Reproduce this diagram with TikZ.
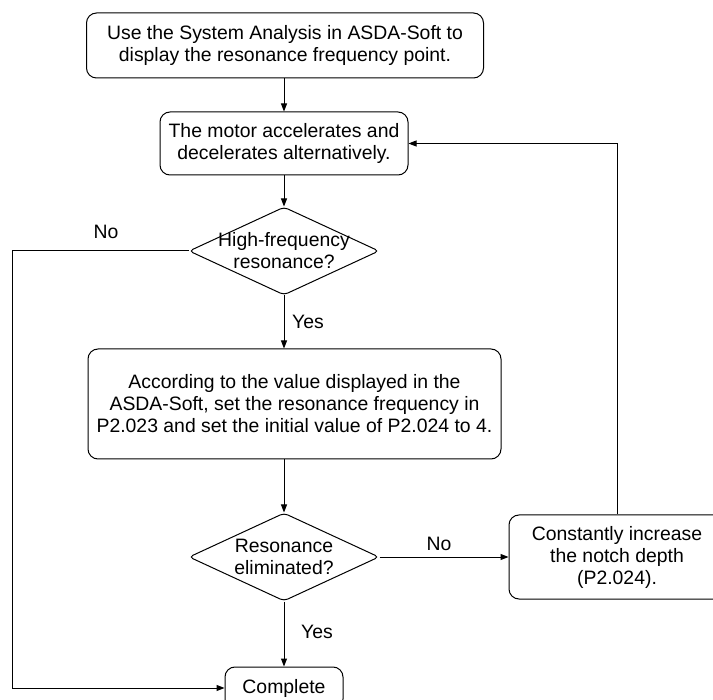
\documentclass[tikz,border=0pt]{standalone}
\usepackage{fontspec}
\setmainfont{Liberation Sans}
\usetikzlibrary{shapes.geometric,arrows.meta,positioning,calc}
\tikzset{
  process/.style={draw,rounded corners=5pt,align=center,inner sep=0pt,
    line width=0.5pt,font=\fontsize{9.7}{11}\selectfont},
  decision/.style={diamond,draw,rounded corners=2pt,align=center,aspect=2.16,
    inner xsep=-15pt,inner ysep=-5pt,
    minimum width=95pt,minimum height=44pt,line width=0.5pt,
    font=\fontsize{9.7}{11}\selectfont},
  flow/.style={-{Triangle[length=4pt,width=3pt]},line width=0.5pt},
  edgelabel/.style={font=\fontsize{9.7}{11}\selectfont,inner sep=0pt}
}
\begin{document}
\begin{tikzpicture}[x=0.5pt,y=-0.5pt]
  \useasboundingbox (0,0) rectangle (713,700);
  \node[process,minimum width=198.5pt,minimum height=32.5pt] (analysis) at (285,45.5)
    {Use the System Analysis in ASDA-Soft to\\display the resonance frequency point.};
  \node[process,minimum width=124pt,minimum height=31.5pt] (motor) at (284,143.5)
    {The motor accelerates and\\decelerates alternatively.};
  \node[decision] (highfreq) at (284,251) {High-frequency\\resonance?};
  \node[process,minimum width=206.5pt,minimum height=55pt] (setnotch) at (294.5,404)
    {According to the value displayed in the\\ASDA-Soft, set the resonance frequency in\\P2.023 and set the initial value of P2.024 to 4.};
  \node[decision] (eliminated) at (284,557) {Resonance\\eliminated?};
  \node[process,minimum width=108pt,minimum height=42pt] (depth) at (617,557)
    {Constantly increase\\the notch depth\\(P2.024).};
  \node[process,minimum width=59pt,minimum height=21pt] (complete) at (284,688) {Complete};
  \node[edgelabel] (nohigh) at (106,232) {No};
  \node[edgelabel] (yeshigh) at (308,322) {Yes};
  \node[edgelabel] (noelim) at (439,544) {No};
  \node[edgelabel] (yeselim) at (317,632) {Yes};
  \draw[flow] (analysis.south -| motor) -- (motor.north);
  \draw[flow] (motor) -- (highfreq);
  \draw[flow] (highfreq.south) -- (setnotch.north -| highfreq);
  \draw[flow] (highfreq.west) -- ++(-176,0) |- (complete.west);
  \draw[flow] (setnotch.south -| eliminated) -- (eliminated.north);
  \draw[flow] (eliminated.east) -- (depth.west);
  \draw[flow] (eliminated.south) -- (complete.north);
  \draw[flow] (depth.north) |- (motor.east);
\end{tikzpicture}
\end{document}
